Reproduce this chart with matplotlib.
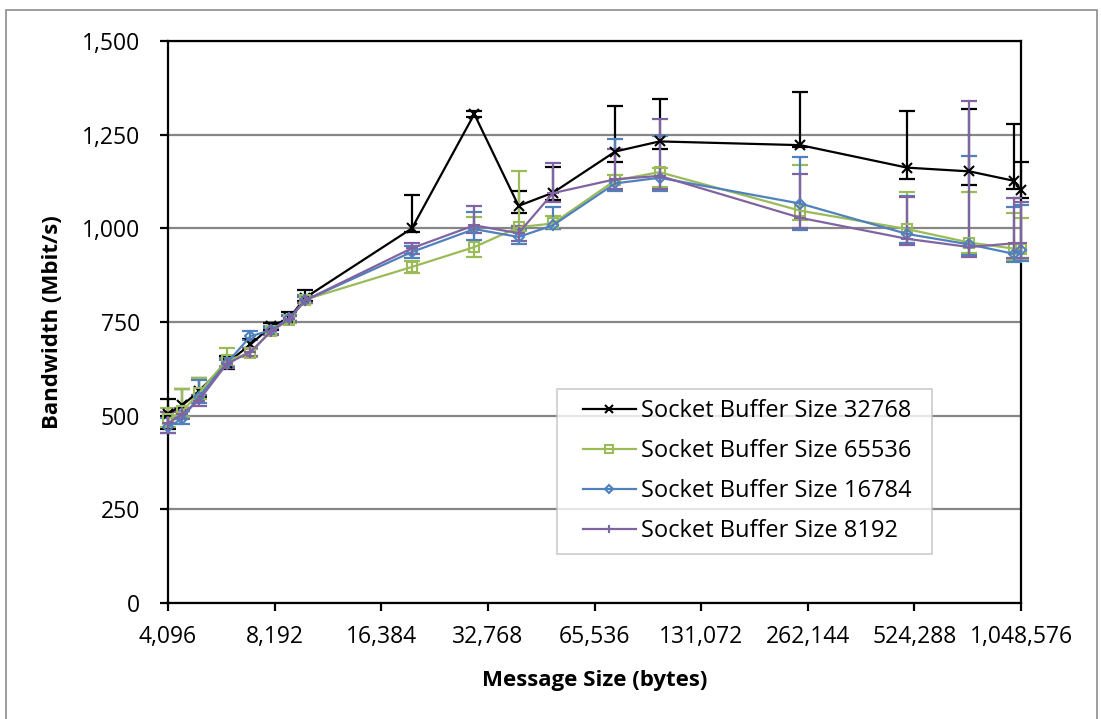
import matplotlib
matplotlib.use("Agg")
import matplotlib.pyplot as plt
from matplotlib.patches import Rectangle
from matplotlib.legend_handler import HandlerLine2D
from matplotlib.ticker import FixedLocator, FuncFormatter, NullLocator

plt.rcParams['font.family'] = ['Open Sans', 'DejaVu Sans']

# Message sizes (bytes)
msg_sizes = [4096, 4500, 5000, 6000, 7000, 8000, 9000, 10000, 20000, 30000,
             40000, 50000, 75000, 100000, 250000, 500000, 750000, 1000000, 1048576]

x_ticks = [4096, 8192, 16384, 32768, 65536, 131072, 262144, 524288, 1048576]
y_ticks = [0, 250, 500, 750, 1000, 1250, 1500]

# Bandwidth (Mbit/s) per socket buffer size
bw_32768 = [505, 528, 565, 640, 690, 738, 760, 815, 1000, 1305,
            1060, 1095, 1205, 1232, 1222, 1162, 1152, 1127, 1102]
bw_65536 = [490, 512, 560, 648, 667, 726, 755, 810, 897, 950,
            1003, 1013, 1128, 1150, 1047, 998, 962, 946, 945]
bw_16784 = [470, 492, 550, 640, 712, 728, 760, 808, 937, 998,
            977, 1008, 1120, 1135, 1066, 985, 957, 932, 942]
bw_8192 = [480, 505, 540, 638, 670, 725, 758, 808, 947, 1008,
           987, 1094, 1131, 1140, 1028, 972, 950, 960, 960]

# Error bar extents (below, above)
err_lo_32768 = [40, 15, 15, 15, 10, 10, 8, 10, 10, 8, 20, 20, 28, 20, 5, 30, 36, 22, 20]
err_hi_32768 = [40, 42, 35, 20, 15, 10, 16, 20, 90, 8, 40, 68, 121, 113, 142, 151, 166, 151, 75]
err_lo_65536 = [20, 15, 15, 15, 10, 10, 8, 8, 15, 27, 10, 15, 25, 40, 25, 37, 28, 31, 30]
err_hi_65536 = [30, 60, 40, 32, 10, 10, 10, 10, 15, 80, 150, 20, 15, 10, 122, 99, 135, 94, 82]
err_lo_16784 = [15, 15, 15, 10, 10, 10, 8, 8, 15, 30, 20, 10, 20, 35, 70, 24, 27, 22, 30]
err_hi_16784 = [25, 20, 45, 15, 15, 10, 10, 15, 15, 45, 20, 50, 118, 111, 124, 101, 236, 125, 120]
err_lo_8192 = [25, 15, 15, 10, 10, 10, 8, 8, 15, 20, 20, 24, 25, 35, 28, 17, 27, 40, 40]
err_hi_8192 = [30, 15, 15, 10, 10, 10, 8, 10, 15, 52, 20, 81, 80, 152, 117, 111, 390, 121, 110]

labels = ["Socket Buffer Size 32768", "Socket Buffer Size 65536",
          "Socket Buffer Size 16784", "Socket Buffer Size 8192"]
colors = ["#000000", "#9BBB59", "#4F81BD", "#8064A2"]
markers = ["x", "s", "D", "+"]
msizes = [7, 7, 5, 8]

series = [(bw_32768, err_lo_32768, err_hi_32768),
          (bw_65536, err_lo_65536, err_hi_65536),
          (bw_16784, err_lo_16784, err_hi_16784),
          (bw_8192, err_lo_8192, err_hi_8192)]

W, H = 1101, 719
fig = plt.figure(figsize=(W / 100, H / 100), dpi=100)
fig.patches.append(Rectangle((6 / W, -0.01), (1097 - 6) / W, 1 - 10 / H + 0.01,
                             transform=fig.transFigure, fill=False,
                             edgecolor="#8C8C8C", linewidth=1.2))

ax = fig.add_axes([168 / W, 1 - 603 / H, (1021 - 168) / W, (603 - 41) / H])
ax.set_xscale("log", base=2)
ax.set_xlim(4096, 1048576)
ax.set_ylim(0, 1500)

handles = []
for (vals, lo, hi), lab, c, m, ms in zip(series, labels, colors, markers, msizes):
    ax.errorbar(msg_sizes, vals, yerr=[lo, hi], fmt="none", ecolor=c,
                elinewidth=1.6, capsize=5.5, capthick=1.6, clip_on=False, zorder=3)
    ln, = ax.plot(msg_sizes, vals, color=c, linewidth=1.6, marker=m,
                  markersize=ms, markerfacecolor="none", markeredgecolor=c,
                  markeredgewidth=1.5, clip_on=False, zorder=4, label=lab)
    handles.append(ln)

ax.xaxis.set_major_locator(FixedLocator(x_ticks))
ax.xaxis.set_minor_locator(NullLocator())
ax.xaxis.set_major_formatter(FuncFormatter(lambda v, p: f"{int(round(v)):,}"))
ax.yaxis.set_major_locator(FixedLocator(y_ticks))
ax.yaxis.set_major_formatter(FuncFormatter(lambda v, p: f"{int(round(v)):,}"))

ax.grid(axis="y", color="#868686", linewidth=1.6, zorder=0)
ax.set_axisbelow(True)
for s in ax.spines.values():
    s.set_color("black")
    s.set_linewidth(1.6)
ax.tick_params(axis="both", direction="out", length=6, width=1.6,
               labelsize=16.5, color="black")
ax.tick_params(axis="x", pad=10)
ax.tick_params(axis="y", pad=14)

ax.set_xlabel("Message Size (bytes)", fontsize=16, fontweight="bold", labelpad=15)
ax.set_ylabel("Bandwidth (Mbit/s)", fontsize=16, fontweight="bold", labelpad=14)

leg = ax.legend(handles=handles, loc="lower left",
                bbox_to_anchor=(0.456, 0.087, 0.44, 0.288), mode="expand",
                fontsize=17, frameon=True, fancybox=False, handlelength=2.9,
                handletextpad=0.2, borderpad=0.45, labelspacing=0.68,
                borderaxespad=0.0,
                handler_map={h: HandlerLine2D(xpad=0.64) for h in handles})
for lh in leg.get_lines():
    lh.set_markersize(lh.get_markersize() * 0.8)
leg.get_frame().set_edgecolor("#BFBFBF")
leg.get_frame().set_linewidth(1.2)

fig.savefig("out.png", dpi=100)
